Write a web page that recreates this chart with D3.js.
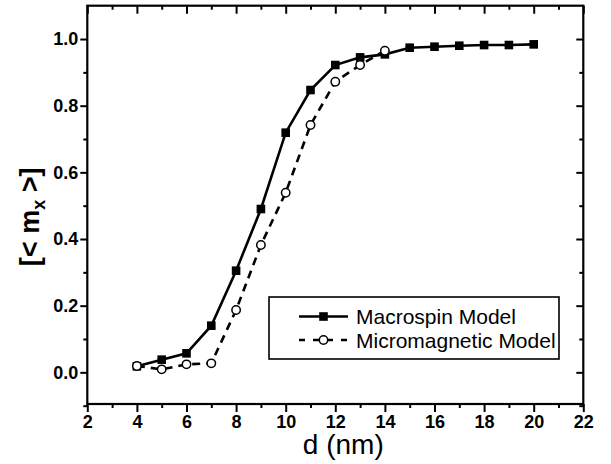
<!DOCTYPE html>
<html>
<head>
<meta charset="utf-8">
<script src="https://cdn.jsdelivr.net/npm/d3@7"></script>
<style>
  body { margin: 0; background: #fff; }
  text { font-family: "Liberation Sans", Arial, sans-serif; fill: #000; }
</style>
</head>
<body>
<div id="chart"></div>
<script>
// data
var dMacro = [4, 5, 6, 7, 8, 9, 10, 11, 12, 13, 14, 15, 16, 17, 18, 19, 20];
var mMacro = [0.018, 0.038, 0.057, 0.14, 0.305, 0.49, 0.719, 0.847, 0.922, 0.945, 0.954, 0.974, 0.977, 0.98, 0.982, 0.982, 0.984];

var dMicro = [4, 5, 6, 7, 8, 9, 10, 11, 12, 13, 14];
var mMicro = [0.019, 0.009, 0.024, 0.027, 0.187, 0.382, 0.539, 0.742, 0.872, 0.922, 0.965];

var xTicks = [2, 4, 6, 8, 10, 12, 14, 16, 18, 20, 22];
var xMinor = [3, 5, 7, 9, 11, 13, 15, 17, 19, 21];
var yTicks = [0.0, 0.2, 0.4, 0.6, 0.8, 1.0];
var yMinor = [-0.1, 0.1, 0.3, 0.5, 0.7, 0.9];

var seriesNames = ["Macrospin Model", "Micromagnetic Model"];

var svgWidth = 611, svgHeight = 464;

var svg = d3.select("#chart").append("svg")
    .attr("width", svgWidth)
    .attr("height", svgHeight);

var x = d3.scaleLinear().domain([2, 22]).range([87.3, 583.3]);
var y = d3.scaleLinear().domain([-0.095, 1.1]).range([404, 5.7]);

var plotL = x(2), plotR = x(22), plotT = y(1.1), plotB = y(-0.095);

// axes
var bottomAxis = svg.append("g").attr("transform", `translate(0,${plotB})`)
    .call(d3.axisBottom(x).tickValues(xTicks).tickSize(8).tickPadding(3).tickFormat(d3.format("d")));
bottomAxis.append("g").call(d3.axisBottom(x).tickValues(xMinor).tickSize(4).tickFormat(""));

var leftAxis = svg.append("g").attr("transform", `translate(${plotL},0)`)
    .call(d3.axisLeft(y).tickValues(yTicks).tickSize(7).tickPadding(2).tickFormat(d3.format(".1f")));
leftAxis.append("g").call(d3.axisLeft(y).tickValues(yMinor).tickSize(4).tickFormat(""));

var topAxis = svg.append("g").attr("transform", `translate(0,${plotT})`)
    .call(d3.axisBottom(x).tickValues(xTicks).tickSize(8).tickFormat(""));
topAxis.append("g").call(d3.axisBottom(x).tickValues(xMinor).tickSize(4).tickFormat(""));

var rightAxis = svg.append("g").attr("transform", `translate(${plotR},0)`)
    .call(d3.axisLeft(y).tickValues(yTicks).tickSize(7).tickFormat(""));
rightAxis.append("g").call(d3.axisLeft(y).tickValues(yMinor).tickSize(4).tickFormat(""));

svg.selectAll(".domain").remove();
svg.selectAll(".tick line").attr("stroke", "#000").attr("stroke-width", 2);
[bottomAxis, leftAxis].forEach(function(g) {
    g.attr("font-size", 18).attr("font-family", "Liberation Sans, Arial, sans-serif").attr("font-weight", "bold");
    g.selectAll(".tick text").attr("fill", "#000");
});

// frame
svg.append("rect")
    .attr("x", plotL).attr("y", plotT)
    .attr("width", plotR - plotL).attr("height", plotB - plotT)
    .attr("fill", "none").attr("stroke", "#000").attr("stroke-width", 2.2);

// axis titles
svg.append("text")
    .attr("x", (plotL + plotR) / 2 + 8).attr("y", 454)
    .attr("text-anchor", "middle")
    .style("font-size", "28px")
    .text("d (nm)");

var yLab = svg.append("text")
    .attr("transform", `translate(39,${(plotT + plotB) / 2 + 12}) rotate(-90)`)
    .attr("text-anchor", "middle")
    .style("font-size", "27px").style("font-weight", "bold");
yLab.append("tspan").text("[< m");
yLab.append("tspan").attr("dy", 6).style("font-size", "18px").text("x");
yLab.append("tspan").attr("dy", -6).text(" >]");

// lines
var line = d3.line().x(d => x(d[0])).y(d => y(d[1]));
var macro = dMacro.map((d, i) => [d, mMacro[i]]);
var micro = dMicro.map((d, i) => [d, mMicro[i]]);

svg.append("path").datum(micro).attr("d", line)
    .attr("fill", "none").attr("stroke", "#000").attr("stroke-width", 2.6)
    .attr("stroke-dasharray", "8,6");

svg.append("path").datum(macro).attr("d", line)
    .attr("fill", "none").attr("stroke", "#000").attr("stroke-width", 2.6);

svg.selectAll(".sq").data(macro).enter().append("rect")
    .attr("x", d => x(d[0]) - 4.3).attr("y", d => y(d[1]) - 4.3)
    .attr("width", 8.6).attr("height", 8.6).attr("fill", "#000");

svg.selectAll(".circ").data(micro).enter().append("circle")
    .attr("cx", d => x(d[0])).attr("cy", d => y(d[1])).attr("r", 4.2)
    .attr("fill", "#fff").attr("stroke", "#000").attr("stroke-width", 1.5);

// legend
var lg = svg.append("g");
lg.append("rect").attr("x", 269).attr("y", 297).attr("width", 290).attr("height", 62)
    .attr("fill", "#fff").attr("stroke", "#000").attr("stroke-width", 1.6);

var rows = [316.5, 340];
lg.append("line").attr("x1", 299).attr("x2", 348).attr("y1", rows[0]).attr("y2", rows[0])
    .attr("stroke", "#000").attr("stroke-width", 2.6);
lg.append("rect").attr("x", 323.5 - 4.3).attr("y", rows[0] - 4.3).attr("width", 8.6).attr("height", 8.6).attr("fill", "#000");
lg.append("line").attr("x1", 299).attr("x2", 348).attr("y1", rows[1]).attr("y2", rows[1])
    .attr("stroke", "#000").attr("stroke-width", 2.6).attr("stroke-dasharray", "6,8");
lg.append("circle").attr("cx", 323.5).attr("cy", rows[1]).attr("r", 4.2)
    .attr("fill", "#fff").attr("stroke", "#000").attr("stroke-width", 1.5);

lg.selectAll(".lt").data(seriesNames).enter().append("text")
    .attr("x", 356).attr("y", (d, i) => rows[i] + 7.5)
    .style("font-size", "21px")
    .text(d => d);
</script>
</body>
</html>
